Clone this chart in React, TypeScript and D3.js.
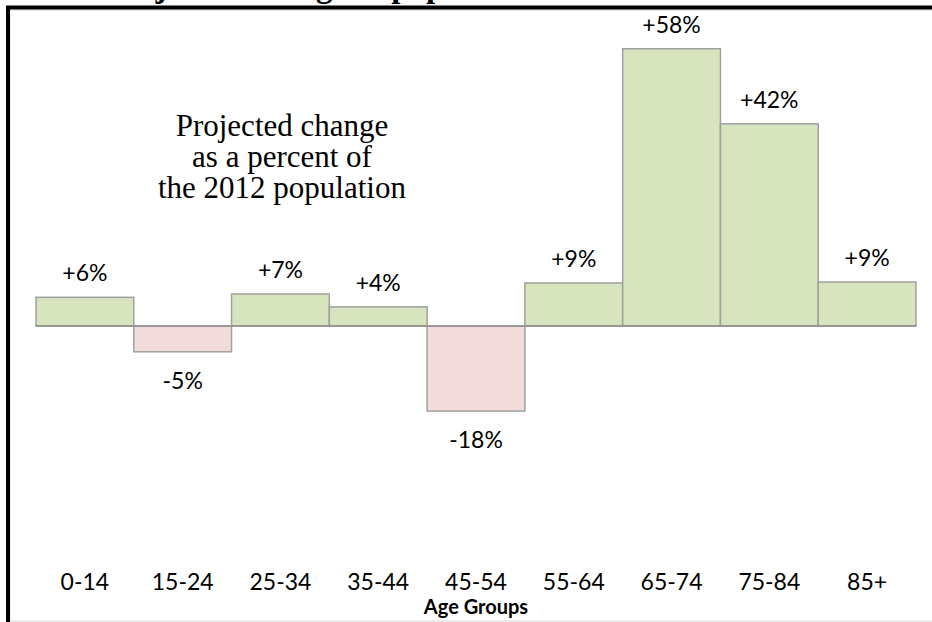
import React from 'react'
import * as d3 from 'd3'

const ageGroups = ['0-14', '15-24', '25-34', '35-44', '45-54', '55-64', '65-74', '75-84', '85+']
const changePct = [6.0, -5.4, 6.7, 4.0, -17.8, 9.0, 58.0, 42.3, 9.2]
const changeLabels = ['+6%', '-5%', '+7%', '+4%', '-18%', '+9%', '+58%', '+42%', '+9%']
const noteLines = ['Projected change', 'as a percent of', 'the 2012 population']
const title = 'Projected change in population'

const W = 932
const H = 622

export default function App() {
  const x = d3.scaleBand<string>()
    .domain(ageGroups)
    .range([36, 916])
    .padding(0)

  // zero line at ~326, roughly 4.78px per percent
  const y = d3.scaleLinear()
    .domain([-20, 60])
    .range([421.6, 39.2])

  const labelFont = 'Lato, "Open Sans", sans-serif'
  const serif = '"Liberation Serif", "DejaVu Serif", serif'

  return (
    <svg width={W} height={H} style={{ position: 'absolute', left: 0, top: 0, background: '#fff' }}>
      {/* title, mostly cut off by the top of the picture */}
      <text x={105} y={-3} fontFamily={serif} fontWeight="bold" fontSize={33} fill="#000">
        {title}
      </text>

      {/* chart frame */}
      <rect x={10} y={10} width={W} height={H - 11} fill="none" stroke="#d9d9d9" strokeWidth={1} />
      <line x1={6} x2={W} y1={7.5} y2={7.5} stroke="#000" strokeWidth={4} />
      <line x1={8} x2={8} y1={6} y2={H} stroke="#000" strokeWidth={4} />

      {/* bars */}
      <g>
        {ageGroups.map((g, i) => {
          const v = changePct[i]
          const top = y(Math.max(0, v))
          const bottom = y(Math.min(0, v))
          return (
            <rect key={g}
              x={x(g)}
              y={top}
              width={x.bandwidth()}
              height={bottom - top}
              fill={v >= 0 ? '#d7e4bd' : '#f2dcdb'}
              stroke="#a0a0a0"
              strokeWidth={1.5}
            />
          )
        })}
      </g>

      {/* zero line */}
      <line x1={x.range()[0]} x2={x.range()[1]} y1={y(0)} y2={y(0)} stroke="#8f8f8f" strokeWidth={1.5} />

      {/* value labels */}
      {ageGroups.map((g, i) => {
        const v = changePct[i]
        const cx = (x(g) ?? 0) + x.bandwidth() / 2
        const ty = v >= 0 ? y(v) - 16 : y(v) + 37
        return (
          <text key={'l' + g} x={cx} y={ty} textAnchor="middle" fontFamily={labelFont} fontSize={23} fill="#000">
            {changeLabels[i]}
          </text>
        )
      })}

      {/* category labels */}
      {ageGroups.map(g => (
        <text key={'c' + g} x={(x(g) ?? 0) + x.bandwidth() / 2} y={590} textAnchor="middle"
          fontFamily={labelFont} fontSize={23} fill="#000">
          {g}
        </text>
      ))}
      <text x={476} y={614} textAnchor="middle" fontFamily={labelFont} fontWeight="bold" fontSize={20} fill="#000">
        Age Groups
      </text>

      {/* note */}
      {noteLines.map((line, i) => (
        <text key={line} x={282} y={136 + i * 31} textAnchor="middle" fontFamily={serif} fontSize={31} fill="#000">
          {line}
        </text>
      ))}
    </svg>
  )
}
